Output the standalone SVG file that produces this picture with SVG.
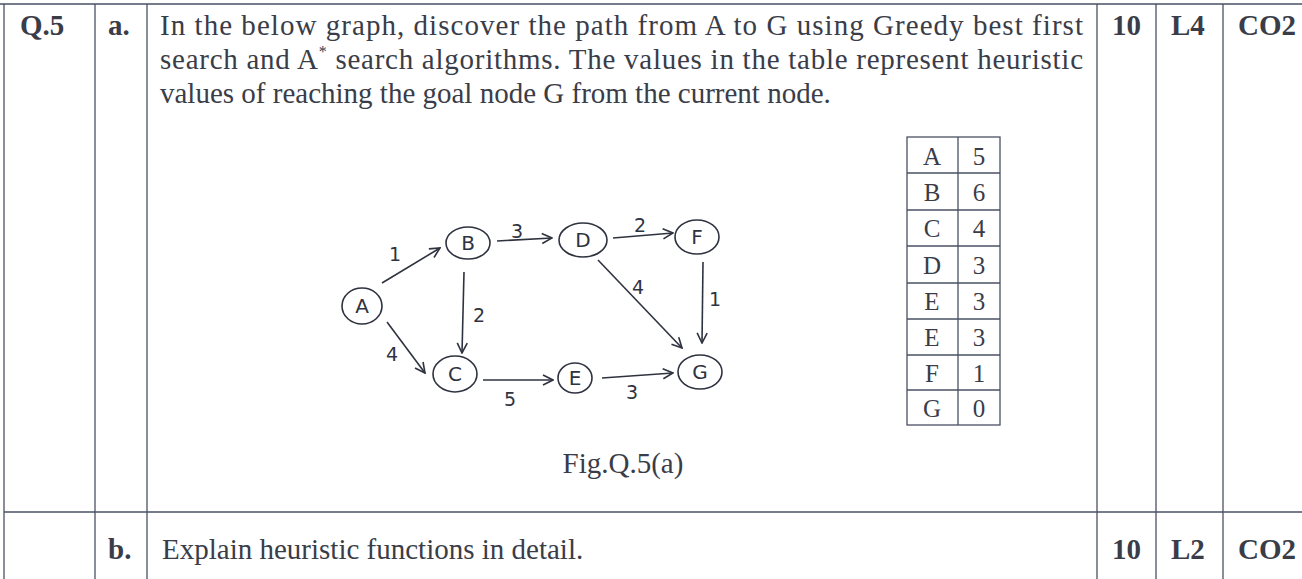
<svg xmlns="http://www.w3.org/2000/svg" width="1302" height="579" viewBox="0 0 1302 579">
<style>
.grid{stroke:#4a5163;stroke-width:1.3;fill:none}
.t{font-family:"Liberation Serif",serif;font-size:29px;fill:#3a3d48}
.b{font-family:"Liberation Serif",serif;font-size:29px;font-weight:bold;fill:#3a3d48}
.tb{font-family:"Liberation Serif",serif;font-size:25px;fill:#3a3d48;text-anchor:middle}
.node{fill:none;stroke:#2f3340;stroke-width:1.6}
.nl{font-family:"DejaVu Sans",sans-serif;font-size:20px;fill:#2f3340;text-anchor:middle}
.edge{stroke:#2f3340;stroke-width:1.6;fill:none;marker-end:url(#ah)}
.el{font-family:"DejaVu Sans",sans-serif;font-size:19px;fill:#2f3340;text-anchor:middle}
</style>
<defs>
<marker id="ah" viewBox="0 0 12 12" refX="11" refY="6" markerWidth="12" markerHeight="12" markerUnits="userSpaceOnUse" orient="auto">
<path d="M1,1 L11,6 L1,11" fill="none" stroke="#2f3340" stroke-width="1.6"/>
</marker>
</defs>
<rect width="1302" height="579" fill="#ffffff"/>
<g id="grid">
<line class="grid" x1="0" y1="4" x2="1302" y2="4"/>
<line class="grid" x1="4" y1="512" x2="1302" y2="512"/>
<line class="grid" x1="4" y1="4" x2="4" y2="579"/>
<line class="grid" x1="95" y1="4" x2="95" y2="579"/>
<line class="grid" x1="147" y1="4" x2="147" y2="579"/>
<line class="grid" x1="1097" y1="4" x2="1097" y2="579"/>
<line class="grid" x1="1156" y1="4" x2="1156" y2="579"/>
<line class="grid" x1="1223" y1="4" x2="1223" y2="579"/>
</g>
<g id="question-a">
<text class="b" x="20" y="35">Q.5</text>
<text class="b" x="108" y="35">a.</text>
<text class="t" x="160" y="35" textLength="923" lengthAdjust="spacing">In the below graph, discover the path from A to G using Greedy best first</text>
<text class="t" x="160" y="69" textLength="923" lengthAdjust="spacing">search and A<tspan dy="-12" font-size="16">*</tspan><tspan dy="12"> search algorithms. The values in the table represent heuristic</tspan></text>
<text class="t" x="160" y="103">values of reaching the goal node G from the current node.</text>
<text class="b" x="1112" y="35">10</text>
<text class="b" x="1171" y="35">L4</text>
<text class="b" x="1238" y="35">CO2</text>
<text class="t" x="623" y="473" text-anchor="middle" font-size="27">Fig.Q.5(a)</text>
</g>
<g id="question-b">
<text class="b" x="108" y="559">b.</text>
<text class="t" x="162" y="559">Explain heuristic functions in detail.</text>
<text class="b" x="1112" y="559">10</text>
<text class="b" x="1171" y="559">L2</text>
<text class="b" x="1238" y="559">CO2</text>
</g>
<g id="heuristic-table">
<rect class="grid" x="907" y="137" width="93" height="288"/>
<line class="grid" x1="958" y1="137" x2="958" y2="425"/>
<line class="grid" x1="907" y1="173" x2="1000" y2="173"/>
<line class="grid" x1="907" y1="210" x2="1000" y2="210"/>
<line class="grid" x1="907" y1="246" x2="1000" y2="246"/>
<line class="grid" x1="907" y1="283" x2="1000" y2="283"/>
<line class="grid" x1="907" y1="319" x2="1000" y2="319"/>
<line class="grid" x1="907" y1="355" x2="1000" y2="355"/>
<line class="grid" x1="907" y1="390" x2="1000" y2="390"/>
<text class="tb" x="932" y="165">A</text><text class="tb" x="979" y="165">5</text>
<text class="tb" x="932" y="201">B</text><text class="tb" x="979" y="201">6</text>
<text class="tb" x="932" y="237">C</text><text class="tb" x="979" y="237">4</text>
<text class="tb" x="932" y="274">D</text><text class="tb" x="979" y="274">3</text>
<text class="tb" x="932" y="310">E</text><text class="tb" x="979" y="310">3</text>
<text class="tb" x="932" y="346">E</text><text class="tb" x="979" y="346">3</text>
<text class="tb" x="932" y="382">F</text><text class="tb" x="979" y="382">1</text>
<text class="tb" x="932" y="417">G</text><text class="tb" x="979" y="417">0</text>
</g>
<g id="connectors">
<path class="edge" d="M382,283 L440,248"/>
<path class="edge" d="M497,241 L552,238"/>
<path class="edge" d="M613,238 L673,233"/>
<path class="edge" d="M464,272 L462,353"/>
<path class="edge" d="M387,322 L425,373"/>
<path class="edge" d="M598,260 L682,348"/>
<path class="edge" d="M703,262 L702,343"/>
<path class="edge" d="M483,380 L553,380"/>
<path class="edge" d="M602,378 L673,373"/>
<text class="el" x="395" y="261">1</text>
<text class="el" x="517" y="238">3</text>
<text class="el" x="640" y="232">2</text>
<text class="el" x="479" y="322">2</text>
<text class="el" x="392" y="361">4</text>
<text class="el" x="638" y="294">4</text>
<text class="el" x="715" y="306">1</text>
<text class="el" x="510" y="406">5</text>
<text class="el" x="632" y="399">3</text>
</g>
<g id="node-A"><ellipse class="node" cx="362" cy="306" rx="20" ry="18"/><text class="nl" x="362" y="313">A</text></g>
<g id="node-B"><ellipse class="node" cx="468" cy="243" rx="22" ry="16"/><text class="nl" x="468" y="250">B</text></g>
<g id="node-D"><ellipse class="node" cx="583" cy="240" rx="24" ry="17"/><text class="nl" x="583" y="247">D</text></g>
<g id="node-F"><ellipse class="node" cx="697" cy="237" rx="22" ry="17"/><text class="nl" x="697" y="244">F</text></g>
<g id="node-C"><ellipse class="node" cx="455" cy="374" rx="22" ry="18"/><text class="nl" x="455" y="381">C</text></g>
<g id="node-E"><ellipse class="node" cx="575" cy="378" rx="17" ry="15"/><text class="nl" x="575" y="385">E</text></g>
<g id="node-G"><ellipse class="node" cx="700" cy="372" rx="22" ry="17"/><text class="nl" x="700" y="379">G</text></g>
</svg>
